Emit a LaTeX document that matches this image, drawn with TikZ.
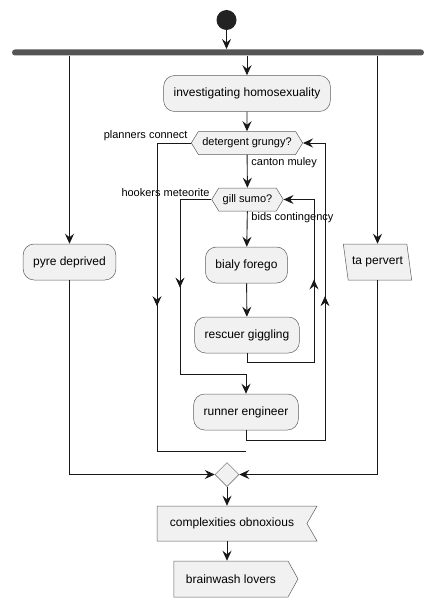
\documentclass[tikz,border=0pt]{standalone}
\usepackage{fontspec}
\setmainfont{Liberation Sans}
\usetikzlibrary{arrows.meta, shapes.geometric, shapes.symbols, decorations.markings}

\definecolor{actfill}{HTML}{F1F1F1}
\definecolor{actline}{HTML}{181818}
\definecolor{barfill}{HTML}{555555}
\definecolor{dotfill}{HTML}{222222}

\begin{document}
\begin{tikzpicture}[x=1pt, y=-1pt, line width=0.9pt, draw=actline,
  >={Stealth[length=10pt, width=9pt, inset=3.5pt]}]

  \tikzstyle{action}=[draw=actline!70, line width=0.5pt, rectangle, rounded corners=11pt, fill=actfill, minimum height=36pt, inner xsep=10pt, font=\fontsize{12}{14}\selectfont]
  \tikzstyle{choice}=[draw=actline!70, line width=0.5pt, signal, signal to=west and east, signal pointer angle=117, fill=actfill, minimum height=23pt, inner xsep=4pt, inner ysep=2pt, font=\fontsize{11}{13}\selectfont]
  \tikzstyle{lbl}=[inner sep=1pt, font=\fontsize{11}{13}\selectfont]
  \tikzstyle{midarrow}=[postaction={decorate}, decoration={markings, mark=at position #1 with {\arrow{>}}}]

  \useasboundingbox (0,0) rectangle (434,607);

  % Start and fork
  \node[circle, fill=dotfill, minimum size=20pt, inner sep=0pt] (begin) at (226.5,20) {};
  \node[rectangle, fill=barfill, rounded corners=3pt, minimum width=412pt, minimum height=6pt, inner sep=0pt] (fork) at (218,52.5) {};

  % Left and right branches
  \node[action] (pyre) at (69.5,262) {pyre deprived};
  \node[draw=actline!70, line width=0.5pt, trapezium, trapezium left angle=106, trapezium right angle=74, trapezium stretches=true, fill=actfill, minimum width=55pt, minimum height=36pt, inner xsep=4pt, font=\fontsize{12}{14}\selectfont] (ta) at (377.5,262) {ta pervert};

  % Middle branch
  \node[action] (inv) at (247,93.5) {investigating homosexuality};
  \node[choice] (det) at (247,143) {detergent grungy?};
  \node[choice] (gill) at (247.5,199.5) {gill sumo?};
  \node[action] (bialy) at (246.5,265) {bialy forego};
  \node[action] (rescuer) at (247,335) {rescuer giggling};
  \node[action] (runner) at (246,412) {runner engineer};

  % Labels
  \node[lbl, anchor=east] (lplanners) at (189,136) {planners connect};
  \node[lbl, anchor=west] (lcanton) at (250,163) {canton muley};
  \node[lbl, anchor=east] (lhookers) at (211,193) {hookers meteorite};
  \node[lbl, anchor=west] (lbids) at (250,218) {bids contingency};

  % Merge and end
  \node[diamond, draw=actline!70, line width=0.5pt, fill=actfill, minimum size=24pt, inner sep=0pt] (merge) at (227,474.5) {};
  \node[draw=actline!70, line width=0.5pt, signal, signal to=nowhere, signal from=east, signal pointer angle=120, fill=actfill, minimum width=160pt, minimum height=35pt, font=\fontsize{12}{14}\selectfont] (comp) at (232,523.5) {complexities obnoxious};
  \node[draw=actline!70, line width=0.5pt, signal, signal to=east, signal pointer angle=122, fill=actfill, minimum width=124pt, minimum height=36pt, font=\fontsize{12}{14}\selectfont] (brain) at (231,579) {brainwash lovers};

  % Lines from start and fork
  \draw[->] (begin) -- (begin |- fork.north);
  \draw[->] (fork.south -| pyre.north) -- (pyre);
  \draw[->] (fork.south -| inv.north) -- (inv);
  \draw[->] (fork.south -| ta.north) -- (ta);

  % Lines in the loops
  \draw[->] (inv) -- (det);
  \draw[->] (det) -- (gill);
  \draw[->] (gill) -- (bialy);
  \draw[->] (bialy) -- (rescuer);
  \draw[->, midarrow=0.59] (rescuer.south) -- ++(0,9) -| (314,199.5) -- (gill.east);
  \draw[->, midarrow=0.41] (gill.west) -- (180,199.5) |- (246,374) -- (runner);
  \draw[->, midarrow=0.571] (runner.south) -- ++(0,10) -| (325,143) -- (det.east);
  \draw[midarrow=0.457] (det.west) -- (157,143) |- (246,451.5);

  % Lines to merge
  \draw[->] (pyre) |- (merge);
  \draw[->] (ta) |- (merge);
  \draw[->] (merge) -- (merge |- comp.north);
  \draw[->] (merge |- comp.south) -- (merge |- brain.north);

\end{tikzpicture}
\end{document}
